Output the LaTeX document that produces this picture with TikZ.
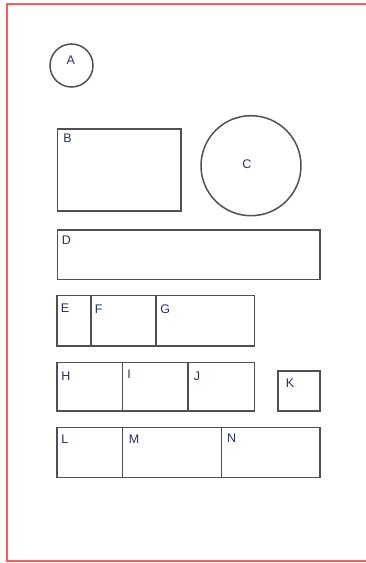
\documentclass[tikz,border=0pt]{standalone}
\usepackage{fontspec}
\setmainfont{Liberation Sans}
\usepackage{tikz}
\usetikzlibrary{positioning}
\definecolor{framered}{RGB}{255,90,90}
\definecolor{edgegray}{RGB}{80,80,80}
\definecolor{tagblue}{RGB}{40,50,90}

\begin{document}
\begin{tikzpicture}[x=1pt,y=-1pt,
  box/.style={draw=edgegray, line width=1.5pt, rectangle, inner sep=0pt, outer sep=0pt},
  ring/.style={draw=edgegray, line width=1.5pt, circle, inner sep=0pt},
  tag/.style={text=tagblue, font=\fontsize{12.5}{14}\selectfont, inner sep=0pt, anchor=north west}]
\useasboundingbox (0,0) rectangle (365,563);
\draw[framered, line width=1.5pt] (7,4) rectangle (375,561);

\node[ring, minimum size=43pt] (A) at (71.5,65.5) {};
\node[ring, minimum size=100pt] (C) at (251,165.7) {};

\node[box, minimum width=123.7pt, minimum height=81.7pt] (B) at (119.2,169.9) {};
\node[box, minimum width=262.7pt, minimum height=49.3pt] (D) at (188.7,254.7) {};

% row E F G
\node[box, minimum width=33.7pt, minimum height=50.7pt] (E) at (73.9,320.7) {};
\node[box, minimum width=65pt, minimum height=50.7pt, right=0pt of E] (F) {};
\node[box, minimum width=98.6pt, minimum height=50.7pt, right=0pt of F] (G) {};

% row H I J, then K
\node[box, minimum width=65.3pt, minimum height=48.7pt] (H) at (89.7,386.7) {};
\node[box, minimum width=65.4pt, minimum height=48.7pt, right=0pt of H] (I) {};
\node[box, minimum width=66.6pt, minimum height=48.7pt, right=0pt of I] (J) {};
\node[box, minimum width=42.3pt, minimum height=40.3pt] (K) at (298.9,390.9) {};

% row L M N
\node[box, minimum width=65.3pt, minimum height=50pt] (L) at (89.7,452.7) {};
\node[box, minimum width=99pt, minimum height=50pt, right=0pt of L] (M) {};
\node[box, minimum width=98.7pt, minimum height=50pt, right=0pt of M] (N) {};

\node[tag, anchor=center] at ([shift={(-0.7,-5)}]A.center) {A};
\node[tag, anchor=center] at ([shift={(-4,-2)}]C.center) {C};
\node[tag] at ([shift={(5.8,5)}]B.north west) {B};
\node[tag] at ([shift={(4.2,5.3)}]D.north west) {D};
\node[tag] at ([shift={(3.6,8.4)}]E.north west) {E};
\node[tag] at ([shift={(4,9)}]F.north west) {F};
\node[tag] at ([shift={(4.3,9.4)}]G.north west) {G};
\node[tag] at ([shift={(4.2,9.5)}]H.north west) {H};
\node[tag] at ([shift={(4.8,7.7)}]I.north west) {I};
\node[tag] at ([shift={(5.8,9.5)}]J.north west) {J};
\node[tag] at ([shift={(8,7.7)}]K.north west) {K};
\node[tag] at ([shift={(4.2,6.7)}]L.north west) {L};
\node[tag] at ([shift={(6.2,7.3)}]M.north west) {M};
\node[tag] at ([shift={(5.6,6.3)}]N.north west) {N};
\end{tikzpicture}
\end{document}
